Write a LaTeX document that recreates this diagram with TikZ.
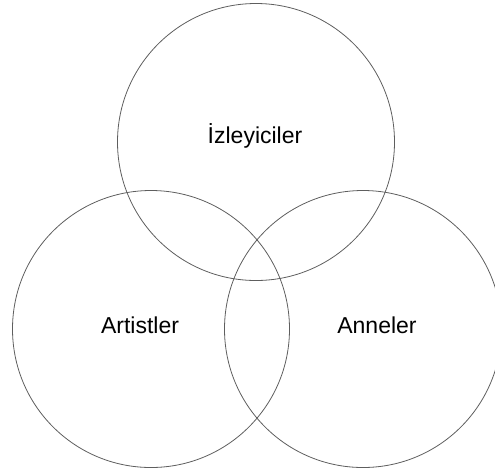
\documentclass[tikz,border=0pt]{standalone}
\usepackage{fontspec}
\setmainfont{Liberation Sans}
\usetikzlibrary{positioning}
\definecolor{Ring}{HTML}{5E5E5E}

\begin{document}
\begin{tikzpicture}[x=1pt,y=-1pt,
    set/.style={draw=Ring,circle,minimum size=277pt,inner sep=0pt,line width=0.8pt},
    lab/.style={font=\fontsize{23}{27}\selectfont,inner sep=0pt}]
    \useasboundingbox (0,0) rectangle (495,475);
    \node[set] (izl) at (256,142) {};
    \node[set] (art) at (151,329) {};
    \node[set] (ann) at (363,329) {};
    \node[lab] (izlt) at (255,136) {İzleyiciler};
    \node[lab] (artt) at (140,325) {Artistler};
    \node[lab] (annt) at (377,325) {Anneler};
  \end{tikzpicture}
\end{document}
